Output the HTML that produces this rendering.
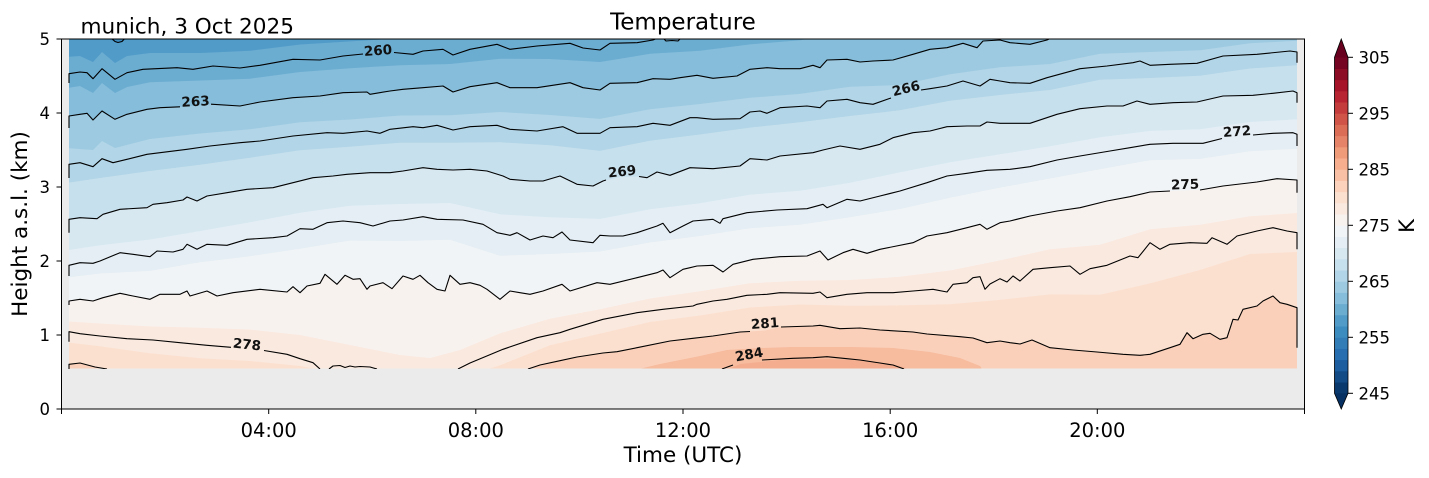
<!DOCTYPE html>
<html><head><meta charset="utf-8"><style>
html,body{margin:0;padding:0;background:#fff;}
svg{display:block;font-family:"DejaVu Sans","Liberation Sans",sans-serif;}
</style></head><body>
<svg width="1429" height="478" viewBox="0 0 1429 478" xmlns="http://www.w3.org/2000/svg">
<defs>
<clipPath id="cd"><rect x="69" y="39" width="1228" height="329.5"/></clipPath>
<clipPath id="cl"><rect x="67" y="39" width="1232" height="330"/></clipPath>
</defs>
<rect width="1429" height="478" fill="#fff"/>
<rect x="61.5" y="39" width="1243" height="370" fill="#ebebeb"/>
<g clip-path="url(#cd)">
<rect x="69" y="39" width="1228" height="330" fill="#509bc8"/>
<path fill="#3d8cbf" d="M109,39 L115,42 L118,42.5 L122,41.5 L127,39 Z"/>
<path fill="#6bacd1" d="M69,56.8 L80,56 L93,62 L102,52 L115,63 L127,56 L150,53 L200,53 L250,50.8 L300,44.5 L350,41.4 L400,38.4 L450,37.6 L500,31 L600,25 L1297,-50 L1297,380 L69,380 Z"/>
<path fill="#85bdda" d="M69,87.8 L80,86 L93,93 L102,83 L115,93 L127,87 L150,82.3 L200,80.5 L250,78.7 L300,72 L350,68.2 L400,65.2 L450,64 L500,58.7 L550,59 L600,62 L650,53.8 L700,50.7 L750,44.4 L800,40.2 L850,33.3 L900,27 L1000,15 L1297,-20 L1297,380 L69,380 Z"/>
<path fill="#9dcae1" d="M69,116 L80,114.3 L87,113.3 L93,120 L102,111 L115,119.3 L127,114.3 L147,109.3 L160,107.7 L183,106.7 L210,104.3 L240,106 L260,102 L293,97.7 L320,96 L343,92.7 L367,92 L370,94.3 L390,91 L403,89.3 L423,87.7 L443,86 L453,92 L470,86.7 L497,82.7 L510,87.7 L537,87.7 L570,82.7 L583,87.7 L600,90 L610,83.3 L637,82.7 L653,78.7 L670,79.3 L680,77.7 L697,75.3 L713,78.3 L737,76 L750,69.3 L767,67.7 L780,68.7 L800,68.7 L813,65.3 L820,67.7 L827,60 L847,59.3 L860,62 L873,61 L893,60 L913,54.3 L930,49.3 L947,47.7 L963,43.3 L977,47.7 L983,41 L1000,40 L1010,42.7 L1030,44.3 L1047,40 L1100,28 L1150,26 L1200,25 L1250,20 L1297,18 L1297,380 L69,380 Z"/>
<path fill="#b2d5e7" d="M69,148.2 L93,150 L102,141 L115,148 L150,139 L200,133.5 L250,129.3 L300,122.3 L350,119.5 L400,115.5 L450,115.3 L500,112 L550,115 L600,118.9 L650,109.2 L700,104 L750,97.8 L800,93.9 L850,86.7 L900,85 L950,74.3 L1000,67.3 L1050,64 L1100,53.7 L1150,52 L1200,50.3 L1250,43.3 L1297,40.7 L1297,380 L69,380 Z"/>
<path fill="#c7e0ed" d="M69,182.6 L100,178 L150,171 L200,164.7 L250,157.7 L300,150.3 L350,146.7 L400,142.7 L450,142.7 L500,142.3 L550,145.3 L600,150.9 L650,140.7 L700,134.5 L750,127.6 L800,122.3 L850,116 L900,110.3 L950,100.7 L1000,95 L1050,90 L1100,79.8 L1150,78 L1200,75.7 L1250,68.5 L1297,65.3 L1297,380 L69,380 Z"/>
<path fill="#d7e8f1" d="M69,219.3 L80,217.7 L97,218.7 L103,214.3 L120,209.3 L147,207.7 L153,204.3 L167,202.7 L183,200 L187,197 L197,201 L207,196 L227,192.7 L247,189.3 L273,187.7 L293,182.7 L313,177.7 L333,176 L347,174.3 L370,172.7 L390,172.7 L403,171 L423,167.7 L437,169.3 L453,170 L470,169.3 L487,171 L503,176 L510,179.3 L530,181 L543,181 L560,176 L577,184.3 L593,186 L603,181 L620,177 L639,176.5 L647,177.7 L657,172 L670,175.3 L690,167.7 L713,168.7 L740,166 L750,158.7 L767,160 L780,156 L813,152.7 L823,150 L840,146 L860,149.3 L880,144.3 L893,137.7 L913,132.7 L930,131 L947,126.7 L967,126 L980,126 L987,122 L1000,123.3 L1030,123.3 L1057,114.3 L1080,108.7 L1107,106 L1123,106 L1137,101 L1150,104.3 L1173,102.7 L1197,102 L1223,96 L1253,95.3 L1273,93.3 L1293,91 L1297,92.7 L1297,380 L69,380 Z"/>
<path fill="#e4eef4" d="M69,250 L100,245.3 L150,239.5 L200,231 L250,222.3 L300,212.8 L350,205.8 L400,204 L450,203 L500,214.3 L550,217.3 L600,218.9 L650,209.3 L700,203.2 L750,194.6 L800,190.7 L850,182.7 L900,172.3 L950,162.3 L1000,154.3 L1050,146.3 L1100,137.2 L1150,130.9 L1200,129.2 L1250,122 L1297,119.3 L1297,380 L69,380 Z"/>
<path fill="#f1f4f6" d="M69,277.2 L100,273.5 L150,270.9 L200,262.3 L250,256.2 L300,248.8 L350,240.5 L400,241 L450,239.7 L500,255.8 L550,254 L600,251.5 L650,242.5 L700,236 L750,228.3 L800,224.7 L850,217.3 L900,209 L950,197.8 L1000,187.6 L1050,178.5 L1100,169.2 L1150,160.2 L1200,158.9 L1250,151.2 L1297,148.7 L1297,380 L69,380 Z"/>
<path fill="#f8f2ef" d="M69,301 L80,299.3 L93,301 L103,297.7 L120,293.3 L133,296 L150,299.3 L160,294.3 L180,294.3 L187,291 L190,296 L207,291 L217,296 L233,292.7 L260,289.3 L287,292 L293,286.7 L300,292.7 L307,286 L320,283.3 L325,274.3 L337,284.3 L345,275.3 L353,279.3 L360,278.7 L367,289.3 L370,286 L383,282.7 L392,288.7 L403,276 L413,279.3 L420,275.3 L428,282.7 L437,289.3 L445,291 L450,275.3 L460,284.3 L470,282.7 L480,285.3 L487,289.3 L500,299.3 L510,291 L520,292.7 L530,294.3 L543,291 L562,284.3 L570,291 L597,282.7 L610,284.3 L637,277.7 L657,272.7 L663,270 L670,277.7 L683,269.3 L690,267.7 L697,266 L713,265.3 L723,272 L733,264.3 L753,259.3 L780,256.7 L807,256 L820,251 L828,260 L843,252.7 L853,249.3 L867,253.3 L880,249.3 L913,242.7 L927,236 L947,232.7 L967,227.7 L980,224.3 L987,229.3 L1000,222.7 L1010,221 L1030,216 L1057,211 L1080,207.7 L1107,201 L1130,196.7 L1150,192 L1185,190.5 L1200,190 L1223,186 L1257,182 L1277,178.7 L1297,180 L1297,380 L69,380 Z"/>
<path fill="#fae9df" d="M69,321.5 L100,323.5 L150,326.4 L200,327.7 L250,329.5 L300,335 L350,345 L400,355 L430,358 L460,350 L500,333.4 L550,318.7 L600,309.3 L650,298.5 L700,291.3 L750,283.3 L800,280.7 L850,280 L900,276.8 L950,270.5 L1000,260.4 L1050,249.3 L1100,244.8 L1150,229.3 L1200,224.7 L1250,216.3 L1297,213 L1297,380 L69,380 Z"/>
<path fill="#fce0cf" d="M69,342.6 L100,346.3 L150,353.3 L200,358.3 L250,361 L300,366 L330,372 L470,375 L500,365.3 L550,345.3 L600,333.6 L650,322 L700,315.5 L750,307.5 L800,304.5 L850,305.7 L900,305.4 L950,304.3 L1000,299.9 L1050,294.4 L1100,294.8 L1150,283.4 L1200,270 L1250,254 L1297,252 L1297,380 L69,380 Z"/>
<path fill="#fad0ba" d="M69,364.3 L80,363 L95,367 L107,368.5 L120,375 L520,375 L530,368 L560,360.7 L577,357 L603,353 L617,351.7 L637,347.7 L670,341 L693,338.3 L713,336 L740,332 L765,330.5 L781,327 L813,326 L820,325.3 L840,328.7 L860,328 L880,330 L913,332 L927,334 L960,336.7 L973,338 L987,342.7 L1000,341 L1010,342.7 L1020,344 L1032,340 L1050,347.7 L1073,350 L1097,352 L1123,354.3 L1140,355.3 L1150,354.3 L1170,347.7 L1180,344.3 L1187,332.7 L1193,338.7 L1203,334.3 L1210,333.3 L1220,339.3 L1227,337.7 L1233,319.3 L1238,320 L1243,309.3 L1257,306 L1263,301 L1273,296 L1280,302.7 L1287,304.3 L1297,307.7 L1297,380 L69,380 Z"/>
<path fill="#f7bb9e" d="M625,380 L635,370 L660,364 L700,356 L727,350 L760,348 L793,347 L850,347 L893,348 L930,352 L960,358 L980,366 L990,380 Z"/>
<path fill="#f4ae8f" d="M715,375 L740,364 L780,360 L830,359 L870,361 L900,366 L925,375 Z"/>
</g>
<g clip-path="url(#cl)" fill="none" stroke="#000" stroke-width="1.1" stroke-linejoin="round">
<polyline points="110,37 115,41.5 118,42.5 122,41.5 126,37"/>
<polyline points="69,83 69,73.7 80,72 87,72.7 93,78.7 102,68.7 115,79.3 127,72.7 143,69.3 177,67.7 193,69.3 213,66 240,68 260,65.3 293,59.3 320,60 343,56 363,54"/>
<polyline points="394,52.5 413,54.3 423,51 443,49.3 453,55 470,49.3 497,44.3 510,49.3 537,46 570,43.3 583,48 600,50 610,43.3 637,42.7 653,40 660,37"/>
<polyline points="662,37 666,41 672,40.5 678,41 682,37"/>
<polyline points="69,128 69,116 80,114.3 87,113.3 93,120 102,111 115,119.3 127,114.3 147,109.3 160,107.7 180,106.8"/>
<polyline points="211,104.2 240,106 260,102 293,97.7 320,96 343,92.7 367,92 370,94.3 390,91 403,89.3 423,87.7 443,86 453,92 470,86.7 497,82.7 510,87.7 537,87.7 570,82.7 583,87.7 600,90 610,83.3 637,82.7 653,78.7 670,79.3 680,77.7 697,75.3 713,78.3 737,76 750,69.3 767,67.7 780,68.7 800,68.7 813,65.3 820,67.7 827,60 847,59.3 860,62 873,61 893,60 913,54.3 930,49.3 947,47.7 963,43.3 977,47.7 983,41 1000,40 1010,42.7 1030,44.3 1047,40 1055,36"/>
<polyline points="69,178 69,164.3 80,162.7 93,166.7 102,158.7 113,162.7 127,159.3 147,154.3 160,152.7 187,149.3 210,146 240,142.7 260,141 293,136 327,132.7 343,133.3 367,131 380,133.3 390,129.3 413,126.7 423,127.7 437,125.3 453,130 470,126.7 497,125.3 510,129.3 537,131 563,126.7 577,133.3 600,133.3 610,127.7 637,126.7 653,123.3 670,125.3 690,117.7 697,117.7 713,119.3 740,118.7 750,112 760,111 767,113.3 780,107.7 807,106 820,107.7 827,101 847,99.3 860,102.7 873,104.3 891,98"/>
<polyline points="921,90 930,88.7 947,86 963,81 980,86 990,79.3 1000,81 1010,82.7 1030,83.3 1047,77.7 1080,68.7 1107,66 1133,62.7 1140,61 1150,65.3 1170,64.3 1197,63.3 1223,56 1257,54.3 1290,51 1297,52 1297,62.7"/>
<polyline points="69,232.7 69,219.3 80,217.7 97,218.7 103,214.3 120,209.3 147,207.7 153,204.3 167,202.7 183,200 187,197 197,201 207,196 227,192.7 247,189.3 273,187.7 293,182.7 313,177.7 333,176 347,174.3 370,172.7 390,172.7 403,171 423,167.7 437,169.3 453,170 470,169.3 487,171 503,176 510,179.3 530,181 543,181 560,176 577,184.3 593,186 603,181 606,180"/>
<polyline points="639,176.5 647,177.7 657,172 670,175.3 690,167.7 713,168.7 740,166 750,158.7 767,160 780,156 813,152.7 823,150 840,146 860,149.3 880,144.3 893,137.7 913,132.7 930,131 947,126.7 967,126 980,126 987,122 1000,123.3 1030,123.3 1057,114.3 1080,108.7 1107,106 1123,106 1137,101 1150,104.3 1173,102.7 1197,102 1223,96 1253,95.3 1273,93.3 1293,91 1297,92.7 1297,102.7"/>
<polyline points="69,276 69,265.3 80,262.7 93,263.3 100,261 120,252.7 133,254.3 150,256.7 157,251 173,252 183,249.3 187,244.3 197,249.3 207,244.3 227,245.3 247,239.3 273,237.7 287,236 300,228.7 313,229.3 327,222.7 343,221 360,222.7 373,226 390,221 403,220 423,216.7 437,219.3 463,220 483,224.3 497,232.7 510,235.3 517,232.7 530,240 543,236 553,237.7 562,232 570,240 593,242.7 600,235.3 610,236 623,236 637,232.7 657,226 663,223.3 670,232.7 683,226 693,221 713,219.3 720,223.3 723,218.7 747,212.7 777,210 807,208.7 823,204.3 827,207.7 847,199.3 860,201 880,196 900,191 927,182.7 947,176 967,173.3 987,170.3 1010,169.3 1030,166.7 1057,160 1080,156 1110,151 1130,147.7 1150,144.3 1173,143.3 1203,143.3 1222,138.5"/>
<polyline points="1253,135 1273,133.3 1293,132.7 1297,134.3 1297,146"/>
<polyline points="69,305 69,301 80,299.3 93,301 103,297.7 120,293.3 133,296 150,299.3 160,294.3 180,294.3 187,291 190,296 207,291 217,296 233,292.7 260,289.3 287,292 293,286.7 300,292.7 307,286 320,283.3 325,274.3 337,284.3 345,275.3 353,279.3 360,278.7 367,289.3 370,286 383,282.7 392,288.7 403,276 413,279.3 420,275.3 428,282.7 437,289.3 445,291 450,275.3 460,284.3 470,282.7 480,285.3 487,289.3 500,299.3 510,291 520,292.7 530,294.3 543,291 562,284.3 570,291 597,282.7 610,284.3 637,277.7 657,272.7 663,270 670,277.7 683,269.3 690,267.7 697,266 713,265.3 723,272 733,264.3 753,259.3 780,256.7 807,256 820,251 828,260 843,252.7 853,249.3 867,253.3 880,249.3 913,242.7 927,236 947,232.7 967,227.7 980,224.3 987,229.3 1000,222.7 1010,221 1030,216 1057,211 1080,207.7 1107,201 1130,196.7 1150,192 1170,191"/>
<polyline points="1200,190 1223,186 1257,182 1277,178.7 1297,180 1297,192.7"/>
<polyline points="69,341.7 69,331.7 80,333.7 100,336 127,338.7 153,340 180,342.7 207,345.3 231,347.3"/>
<polyline points="264,350.5 287,354.3 300,358.7 313,362.7 320,369"/>
<polyline points="329,369 333,366 340,365.5 345,367.5 350,366 355,367 360,366.5 370,367 377,369"/>
<polyline points="458,369 470,363 503,349.3 537,337.7 560,332.7 570,329.3 603,319.3 637,312.7 663,309.3 693,306 697,304.3 713,301 727,299.3 747,295.3 767,294.3 780,292.7 813,293.3 820,292 827,297.7 847,294.3 867,292.7 893,292.7 913,291 933,289.3 947,292 953,284.3 967,282.7 973,277.7 980,276.7 985,289.3 990,284 1000,278.7 1007,282 1013,276 1020,281 1033,269.3 1050,267.7 1070,266 1080,274.3 1090,268.7 1107,265.3 1130,256 1138,257.7 1150,242.7 1160,249.3 1170,244.3 1190,242.7 1207,243.3 1212,237.7 1227,244.3 1237,236 1257,231 1273,227.7 1287,231 1297,232.7 1297,249.3"/>
<polyline points="69,374 69,364.3 80,363 95,367 107,369"/>
<polyline points="528,369 540,365 560,360.7 577,357 603,353 617,351.7 637,347.7 670,341 693,338.3 713,336 740,332 750,331.5"/>
<polyline points="781,327 813,326 820,325.3 840,328.7 860,328 880,330 913,332 927,334 960,336.7 973,338 987,342.7 1000,341 1010,342.7 1020,344 1032,340 1050,347.7 1073,350 1097,352 1123,354.3 1140,355.3 1150,354.3 1170,347.7 1180,344.3 1187,332.7 1193,338.7 1203,334.3 1210,333.3 1220,339.3 1227,337.7 1233,319.3 1238,320 1243,309.3 1257,306 1263,301 1273,296 1280,302.7 1287,304.3 1297,307.7 1297,347.7"/>
<polyline points="722,369 733,365"/>
<polyline points="762,360 793,358.3 813,357.7 827,356.7 847,358.7 860,360 880,363 893,365 904,369"/>
</g>
<g font-weight="bold" font-size="13.5" text-anchor="middle" fill="#111">
<text transform="translate(378,50) rotate(-4)" y="5">260</text>
<text transform="translate(195.5,101) rotate(-3)" y="5">263</text>
<text transform="translate(906,88) rotate(-14)" y="5">266</text>
<text transform="translate(622,171) rotate(-6)" y="5">269</text>
<text transform="translate(1237,131) rotate(-4)" y="5">272</text>
<text transform="translate(1185,184) rotate(-2)" y="5">275</text>
<text transform="translate(247,344) rotate(6)" y="5">278</text>
<text transform="translate(765,323) rotate(-4)" y="5">281</text>
<text transform="translate(749,354) rotate(-10)" y="5">284</text>
</g>
<rect x="61.5" y="39" width="1243" height="370" fill="none" stroke="#000" stroke-width="1"/>
<g stroke="#000" stroke-width="1">
<line x1="61.5" y1="409" x2="61.5" y2="414"/>
<line x1="268.7" y1="409" x2="268.7" y2="414"/>
<line x1="475.8" y1="409" x2="475.8" y2="414"/>
<line x1="683" y1="409" x2="683" y2="414"/>
<line x1="890.2" y1="409" x2="890.2" y2="414"/>
<line x1="1097.3" y1="409" x2="1097.3" y2="414"/>
<line x1="1304.5" y1="409" x2="1304.5" y2="414"/>
<line x1="56.5" y1="409" x2="61.5" y2="409"/>
<line x1="56.5" y1="335" x2="61.5" y2="335"/>
<line x1="56.5" y1="261" x2="61.5" y2="261"/>
<line x1="56.5" y1="187" x2="61.5" y2="187"/>
<line x1="56.5" y1="113" x2="61.5" y2="113"/>
<line x1="56.5" y1="39" x2="61.5" y2="39"/>
</g>
<g font-size="19.5" text-anchor="middle" fill="#000">
<text x="268.7" y="437">04:00</text>
<text x="475.8" y="437">08:00</text>
<text x="683" y="437">12:00</text>
<text x="890.2" y="437">16:00</text>
<text x="1097.3" y="437">20:00</text>
</g>
<g font-size="16.5" text-anchor="end" fill="#000">
<text x="50" y="415">0</text>
<text x="50" y="341">1</text>
<text x="50" y="267">2</text>
<text x="50" y="193">3</text>
<text x="50" y="119">4</text>
<text x="50" y="45">5</text>
</g>
<text x="683" y="462" font-size="21.5" text-anchor="middle" fill="#000">Time (UTC)</text>
<text transform="translate(27,224) rotate(-90)" font-size="21.5" text-anchor="middle" fill="#000">Height a.s.l. (km)</text>
<text x="683" y="29.3" font-size="23" text-anchor="middle" fill="#000">Temperature</text>
<text x="80.5" y="33.3" font-size="21.6" fill="#000">munich, 3 Oct 2025</text>
<g>
<rect x="1334.5" y="382.1" width="13.5" height="11.6" fill="#0a396e"/>
<rect x="1334.5" y="370.9" width="13.5" height="11.6" fill="#134b87"/>
<rect x="1334.5" y="359.7" width="13.5" height="11.6" fill="#1c5da0"/>
<rect x="1334.5" y="348.5" width="13.5" height="11.6" fill="#276eb0"/>
<rect x="1334.5" y="337.3" width="13.5" height="11.6" fill="#327db8"/>
<rect x="1334.5" y="326.1" width="13.5" height="11.6" fill="#3d8cbf"/>
<rect x="1334.5" y="314.9" width="13.5" height="11.6" fill="#509bc8"/>
<rect x="1334.5" y="303.7" width="13.5" height="11.6" fill="#6bacd1"/>
<rect x="1334.5" y="292.5" width="13.5" height="11.6" fill="#85bdda"/>
<rect x="1334.5" y="281.3" width="13.5" height="11.6" fill="#9dcae1"/>
<rect x="1334.5" y="270.1" width="13.5" height="11.6" fill="#b2d5e7"/>
<rect x="1334.5" y="258.9" width="13.5" height="11.6" fill="#c7e0ed"/>
<rect x="1334.5" y="247.7" width="13.5" height="11.6" fill="#d7e8f1"/>
<rect x="1334.5" y="236.5" width="13.5" height="11.6" fill="#e4eef4"/>
<rect x="1334.5" y="225.3" width="13.5" height="11.6" fill="#f1f4f6"/>
<rect x="1334.5" y="214.1" width="13.5" height="11.6" fill="#f8f2ef"/>
<rect x="1334.5" y="202.9" width="13.5" height="11.6" fill="#fae9df"/>
<rect x="1334.5" y="191.7" width="13.5" height="11.6" fill="#fce0cf"/>
<rect x="1334.5" y="180.5" width="13.5" height="11.6" fill="#fcd2bc"/>
<rect x="1334.5" y="169.3" width="13.5" height="11.6" fill="#f9c0a5"/>
<rect x="1334.5" y="158.1" width="13.5" height="11.6" fill="#f6ae8e"/>
<rect x="1334.5" y="146.9" width="13.5" height="11.6" fill="#ef9a79"/>
<rect x="1334.5" y="135.7" width="13.5" height="11.6" fill="#e58368"/>
<rect x="1334.5" y="124.5" width="13.5" height="11.6" fill="#db6c56"/>
<rect x="1334.5" y="113.3" width="13.5" height="11.6" fill="#d05447"/>
<rect x="1334.5" y="102.1" width="13.5" height="11.6" fill="#c43c3c"/>
<rect x="1334.5" y="90.9" width="13.5" height="11.6" fill="#b82431"/>
<rect x="1334.5" y="79.7" width="13.5" height="11.6" fill="#a61429"/>
<rect x="1334.5" y="68.5" width="13.5" height="11.6" fill="#8d0c25"/>
<rect x="1334.5" y="57.3" width="13.5" height="11.6" fill="#740421"/>
<polygon points="1334.5,57.6 1348,57.6 1341.25,39" fill="#67001f"/>
<polygon points="1334.5,393.3 1348,393.3 1341.25,409" fill="#053061"/>
<polygon points="1334.5,57.3 1341.25,39 1348,57.3 1348,393.3 1341.25,409 1334.5,393.3" fill="none" stroke="#000" stroke-width="0.8"/>
</g>
<g stroke="#000" stroke-width="1">
<line x1="1348" y1="57.3" x2="1353" y2="57.3"/>
<line x1="1348" y1="113.3" x2="1353" y2="113.3"/>
<line x1="1348" y1="169.3" x2="1353" y2="169.3"/>
<line x1="1348" y1="225.3" x2="1353" y2="225.3"/>
<line x1="1348" y1="281.3" x2="1353" y2="281.3"/>
<line x1="1348" y1="337.3" x2="1353" y2="337.3"/>
<line x1="1348" y1="393.3" x2="1353" y2="393.3"/>
</g>
<g font-size="16.5" fill="#000">
<text x="1358.5" y="63.3">305</text>
<text x="1358.5" y="119.3">295</text>
<text x="1358.5" y="175.3">285</text>
<text x="1358.5" y="231.3">275</text>
<text x="1358.5" y="287.3">265</text>
<text x="1358.5" y="343.3">255</text>
<text x="1358.5" y="399.3">245</text>
</g>
<text transform="translate(1414,226) rotate(-90)" font-size="21" text-anchor="middle" fill="#000">K</text>
</svg>
</body></html>
